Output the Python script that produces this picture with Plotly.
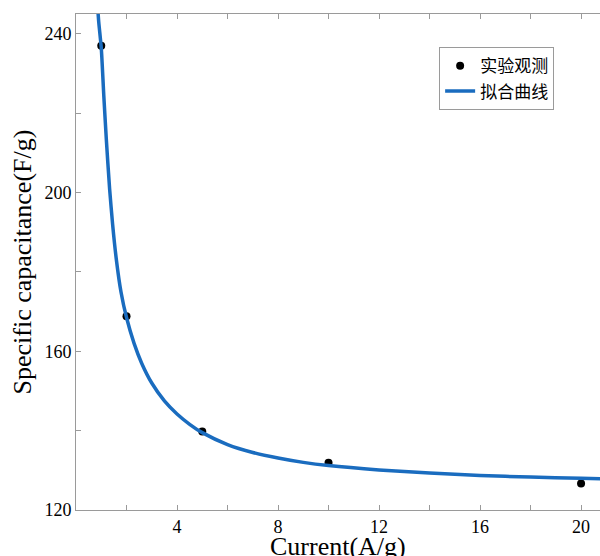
import plotly.graph_objects as go

# Observed data
obs_x = [1, 2, 5, 10, 20]
obs_y = [237, 168.8, 139.8, 131.9, 126.7]

# Fitted curve
fit_x = [0.85, 0.9, 1.0, 1.1, 1.2, 1.33, 1.45, 1.6, 1.78, 2.0, 2.3, 2.6, 3.0, 3.5, 4.0, 4.5, 5.0,
         6.0, 7.0, 8.0, 9.0, 10.0, 12.0, 14.0, 16.0, 18.0, 20.0, 21.0]
fit_y = [247.5, 243.0, 236.5, 224.5, 213.5, 201.0, 192.0, 183.0, 175.0, 168.5, 162.0, 157.0, 152.0,
         147.5, 144.2, 141.6, 139.5, 136.5, 134.5, 133.1, 132.0, 131.2, 130.1, 129.3, 128.7, 128.3,
         128.0, 127.8]

x_ticks = [4, 8, 12, 16, 20]
x_minor = [2, 6, 10, 14, 18]
y_ticks = [120, 160, 200, 240]
y_minor = [140, 180, 220]

serif = "Liberation Serif, Times New Roman, serif"
cjk = "Noto Sans CJK SC"

fig = go.Figure()
fig.add_trace(go.Scatter(x=obs_x, y=obs_y, mode="markers", name="实验观测",
                         marker=dict(color="black", size=8)))
fig.add_trace(go.Scatter(x=fit_x, y=fit_y, mode="lines", name="拟合曲线",
                         line=dict(color="#1a6cbf", width=3.5, shape="spline", smoothing=0.6)))

axis_common = dict(showgrid=False, zeroline=False, showline=True, linecolor="#9a9a9a", linewidth=1,
                   ticks="inside", ticklen=5, tickcolor="#9a9a9a", tickwidth=1,
                   tickfont=dict(family=serif, size=18, color="black"))

fig.update_layout(
    width=600, height=556,
    margin=dict(l=76, r=0, t=14, b=46),
    plot_bgcolor="white", paper_bgcolor="white",
    xaxis=dict(range=[0, 20.75], tickvals=x_ticks, mirror="ticks", ticklabelstandoff=0,
               minor=dict(tickvals=x_minor, ticks="inside", ticklen=5, tickcolor="#9a9a9a"),
               **axis_common),
    yaxis=dict(range=[120, 245], tickvals=y_ticks, mirror=False, ticklabelstandoff=0,
               minor=dict(tickvals=y_minor, ticks="inside", ticklen=5, tickcolor="#9a9a9a"),
               **axis_common),
    showlegend=True,
    legend=dict(x=0.693, y=0.933, xanchor="left", yanchor="top",
                bordercolor="#9a9a9a", borderwidth=1, bgcolor="white",
                font=dict(family=cjk, size=17, color="black"),
                tracegroupgap=0, itemwidth=30),
    annotations=[
        dict(text="Specific capacitance(F/g)", xref="paper", yref="paper", x=-0.104, y=0.5,
             textangle=-90, showarrow=False, xanchor="center", yanchor="middle",
             font=dict(family=serif, size=26, color="black")),
        dict(text="Current(A/g)", xref="paper", yref="paper", x=0.5, y=-0.073,
             showarrow=False, xanchor="center", yanchor="middle",
             font=dict(family=serif, size=26, color="black")),
    ],
)

fig.write_html("out.html")
